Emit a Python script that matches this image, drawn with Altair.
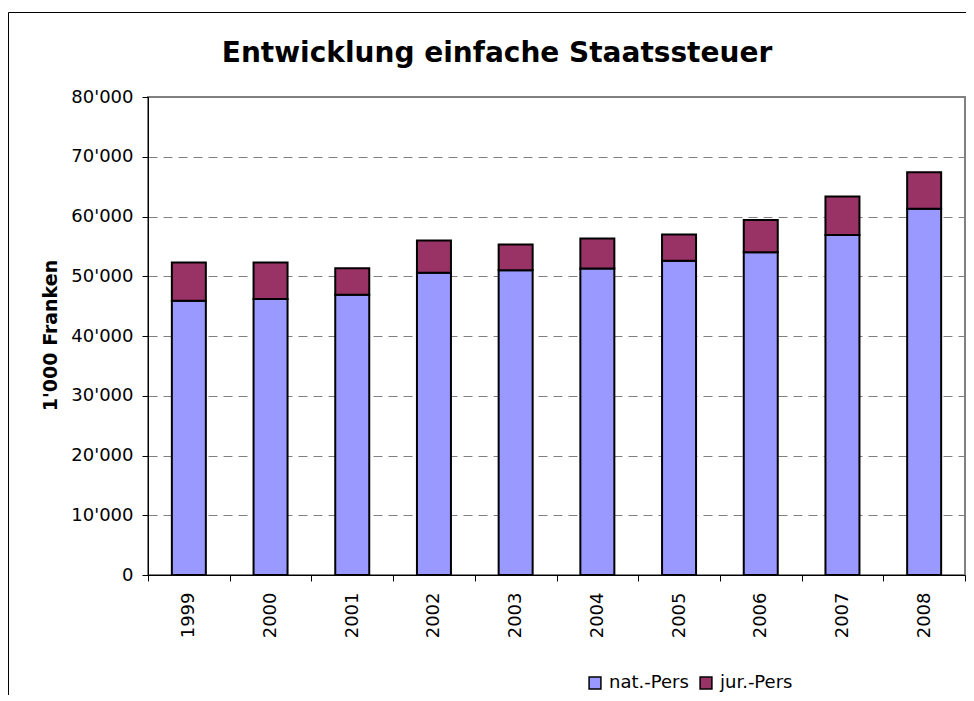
import altair as alt
import pandas as pd

years = ["1999", "2000", "2001", "2002", "2003", "2004", "2005", "2006", "2007", "2008"]
nat_pers = [45900, 46200, 46900, 50600, 51000, 51300, 52600, 54000, 56900, 61300]
jur_pers = [6400, 6100, 4450, 5400, 4300, 5000, 4400, 5400, 6450, 6100]
series = ["nat.-Pers", "jur.-Pers"]
colors = ["#9999FF", "#993366"]
y_ticks = [0, 10000, 20000, 30000, 40000, 50000, 60000, 70000, 80000]
title_text = "Entwicklung einfache Staatssteuer"
y_title = "1'000 Franken"

rows = []
for i, yr in enumerate(years):
    rows.append({"Jahr": yr, "Serie": series[0], "Wert": nat_pers[i], "idx": 0})
    rows.append({"Jahr": yr, "Serie": series[1], "Wert": jur_pers[i], "idx": 1})
df = pd.DataFrame(rows)

W, H = 817, 478
FONT = "DejaVu Sans"

bars = alt.Chart(df).mark_bar(size=34, stroke="black", strokeWidth=2).encode(
    x=alt.X(
        "Jahr:N",
        sort=years,
        scale=alt.Scale(paddingInner=0, paddingOuter=0),
        axis=alt.Axis(
            title=None, labelAngle=270, labelFont=FONT, labelFontSize=18,
            labelColor="black", tickBand="extent", tickSize=6, tickColor="black",
            domainColor="black", domainWidth=1, labelPadding=11, grid=False,
        ),
    ),
    y=alt.Y(
        "Wert:Q",
        stack="zero",
        scale=alt.Scale(domain=[0, 80000], nice=False),
        axis=alt.Axis(
            values=y_ticks,
            labelExpr="replace(format(datum.value, ','), ',', \"'\")",
            labelFont=FONT, labelFontSize=18, labelColor="black",
            tickSize=6, tickColor="black", domainColor="black", domainWidth=1,
            labelPadding=9, grid=True, gridColor="#808080", gridDash=[9, 6],
            gridWidth=1, title=y_title, titleFont=FONT, titleFontSize=19,
            titleFontWeight="bold", titleColor="black", titleAngle=270,
            titleX=-92, titleY=238, titleAlign="center", titleBaseline="alphabetic",
        ),
    ),
    color=alt.Color(
        "Serie:N",
        sort=series,
        scale=alt.Scale(domain=series, range=colors),
        legend=alt.Legend(
            title=None, orient="none", legendX=438, legendY=577,
            direction="horizontal", symbolType="square", symbolSize=140,
            symbolStrokeColor="black", symbolStrokeWidth=1.5,
            labelFont=FONT, labelFontSize=18, labelColor="black",
            columnPadding=8, labelOffset=5, padding=0,
        ),
    ),
    order=alt.Order("idx:Q", sort="ascending"),
)

title_df = pd.DataFrame({"t": [title_text]})
title = alt.Chart(title_df).mark_text(
    font=FONT, fontSize=28, fontWeight="bold", align="center",
    baseline="alphabetic", color="black",
).encode(text="t:N", x=alt.value(349), y=alt.value(-35))

border_df = pd.DataFrame({"k": [0]})
left_border = alt.Chart(border_df).mark_rule(color="black", strokeWidth=1).encode(
    x=alt.value(-139.5), y=alt.value(-84.5), y2=alt.value(610)
)
top_border = alt.Chart(border_df).mark_rule(color="black", strokeWidth=1).encode(
    x=alt.value(-139.5), x2=alt.value(830), y=alt.value(-84.5)
)

chart = alt.layer(bars, title, left_border, top_border).properties(
    width=W,
    height=H,
    autosize=alt.AutoSizeParams(type="none"),
    padding={"left": 140, "top": 89, "right": 1, "bottom": 120},
).configure_view(stroke="#808080", strokeWidth=2)

chart.save("out.html", embed_options={"renderer": "svg", "actions": False})
